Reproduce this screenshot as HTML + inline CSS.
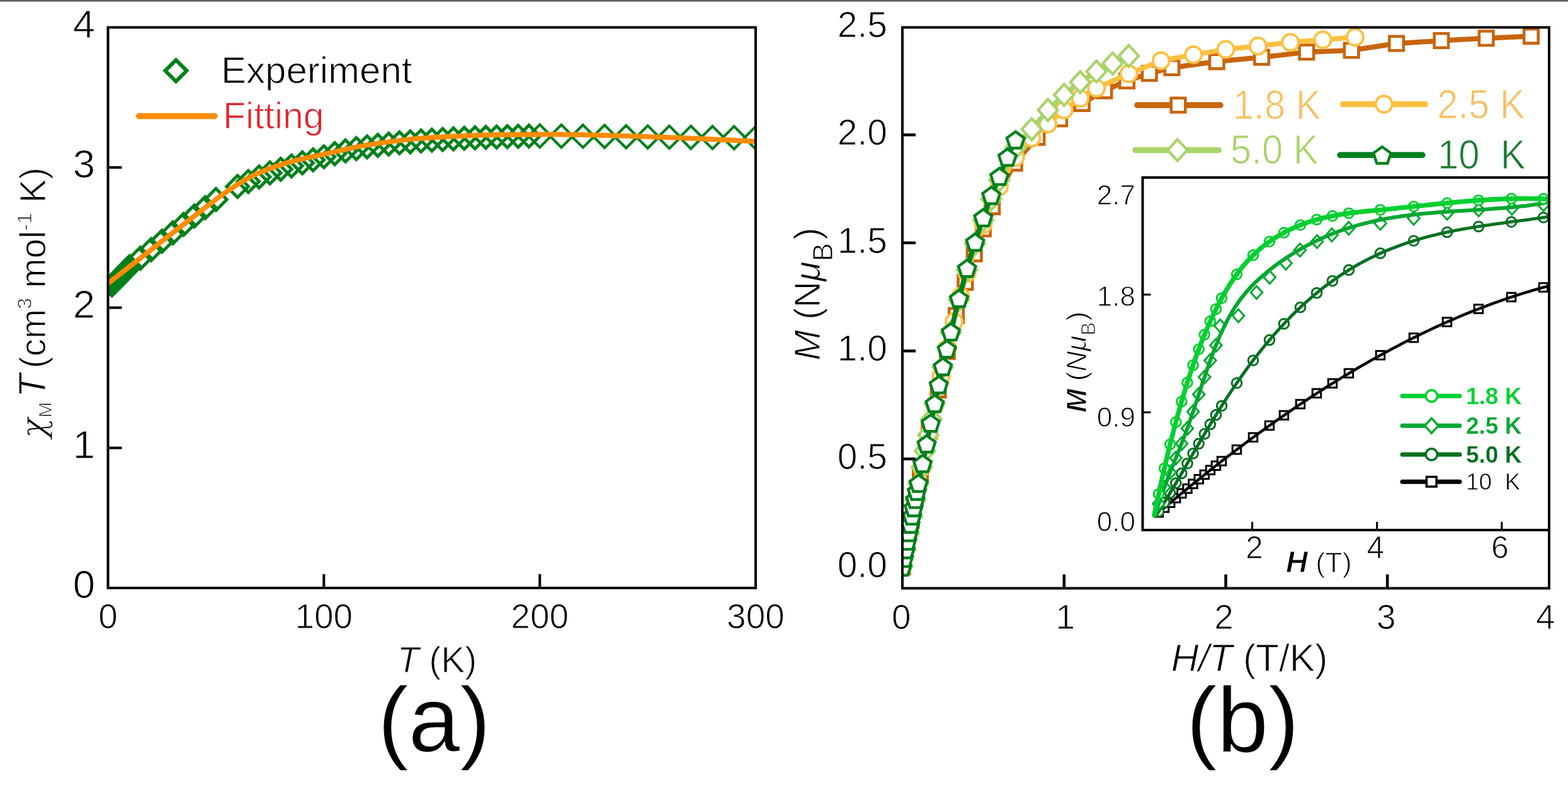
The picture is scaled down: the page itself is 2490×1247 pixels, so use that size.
<!DOCTYPE html><html><head><meta charset="utf-8"><style>html,body{margin:0;padding:0;background:#fff;overflow:hidden}svg{display:block}text{font-family:'Liberation Sans', Arial, sans-serif;stroke:#fff;stroke-width:1.1px}</style></head><body>
<svg xmlns="http://www.w3.org/2000/svg" width="2490" height="1247" viewBox="0 0 2490 1247">
<rect width="2490" height="1247" fill="#fff"/>
<rect x="0" y="0.6" width="2490" height="1.6" fill="#111"/>
<defs>
<clipPath id="cl"><rect x="171.5" y="43.5" width="1028.5" height="890.5"/></clipPath>
<clipPath id="cr"><rect x="1433.0" y="43.5" width="1027.0" height="891.0"/></clipPath>
<clipPath id="ci"><rect x="1814.5" y="282.0" width="645.5" height="560.0"/></clipPath>
</defs>
<g clip-path="url(#cl)">
<path d="M160.4 452.7L177.7 435.4L195.0 452.7L177.7 470.0ZM161.1 452.0L178.4 434.7L195.7 452.0L178.4 469.3ZM164.5 448.5L181.8 431.2L199.1 448.5L181.8 465.8ZM167.9 444.9L185.2 427.6L202.5 444.9L185.2 462.2ZM171.3 441.4L188.6 424.1L205.9 441.4L188.6 458.7ZM174.8 437.8L192.1 420.5L209.4 437.8L192.1 455.1ZM178.2 434.2L195.5 416.9L212.8 434.2L195.5 451.5ZM181.6 430.7L198.9 413.4L216.2 430.7L198.9 448.0ZM185.1 427.1L202.4 409.8L219.7 427.1L202.4 444.4ZM188.5 423.5L205.8 406.2L223.1 423.5L205.8 440.8ZM205.6 410.1L222.9 392.8L240.2 410.1L222.9 427.4ZM222.8 396.6L240.1 379.3L257.4 396.6L240.1 413.9ZM239.9 383.2L257.2 365.9L274.5 383.2L257.2 400.5ZM257.1 369.9L274.4 352.6L291.7 369.9L274.4 387.2ZM274.2 356.5L291.5 339.2L308.8 356.5L291.5 373.8ZM291.3 343.2L308.6 325.9L325.9 343.2L308.6 360.5ZM308.5 329.9L325.8 312.6L343.1 329.9L325.8 347.2ZM325.6 316.9L342.9 299.6L360.2 316.9L342.9 334.2ZM359.9 296.2L377.2 278.9L394.5 296.2L377.2 313.5ZM377.0 288.3L394.3 271.0L411.6 288.3L394.3 305.6ZM394.2 281.1L411.5 263.8L428.8 281.1L411.5 298.4ZM411.3 274.6L428.6 257.3L445.9 274.6L428.6 291.9ZM428.5 268.8L445.8 251.5L463.1 268.8L445.8 286.1ZM445.6 263.6L462.9 246.3L480.2 263.6L462.9 280.9ZM462.8 258.7L480.1 241.4L497.4 258.7L480.1 276.0ZM479.9 253.9L497.2 236.6L514.5 253.9L497.2 271.2ZM497.0 249.0L514.3 231.7L531.6 249.0L514.3 266.3ZM514.2 244.1L531.5 226.8L548.8 244.1L531.5 261.4ZM531.3 239.7L548.6 222.4L565.9 239.7L548.6 257.0ZM548.5 236.1L565.8 218.8L583.1 236.1L565.8 253.4ZM565.6 233.3L582.9 216.0L600.2 233.3L582.9 250.6ZM582.7 230.8L600.0 213.5L617.3 230.8L600.0 248.1ZM599.9 228.8L617.2 211.5L634.5 228.8L617.2 246.1ZM617.0 226.9L634.3 209.6L651.6 226.9L634.3 244.2ZM634.2 225.3L651.5 208.0L668.8 225.3L651.5 242.6ZM651.3 223.9L668.6 206.6L685.9 223.9L668.6 241.2ZM668.5 222.7L685.8 205.4L703.0 222.7L685.8 240.0ZM685.6 221.6L702.9 204.3L720.2 221.6L702.9 238.9ZM702.7 220.6L720.0 203.3L737.3 220.6L720.0 237.9ZM719.9 219.7L737.2 202.4L754.5 219.7L737.2 237.0ZM737.0 218.9L754.3 201.6L771.6 218.9L754.3 236.2ZM754.2 218.2L771.5 200.9L788.8 218.2L771.5 235.5ZM771.3 217.6L788.6 200.3L805.9 217.6L788.6 234.9ZM788.4 217.1L805.7 199.8L823.0 217.1L805.7 234.4ZM805.6 216.6L822.9 199.3L840.2 216.6L822.9 233.9ZM822.7 216.2L840.0 198.9L857.3 216.2L840.0 233.5Z" fill="none" stroke="#00801a" stroke-width="5" stroke-linejoin="miter"/>
<path d="M839.2 216.0L857.2 198.0L875.2 216.0L857.2 234.0ZM873.5 216.2L891.5 198.2L909.5 216.2L891.5 234.2ZM907.7 216.4L925.7 198.4L943.7 216.4L925.7 234.4ZM942.0 216.8L960.0 198.8L978.0 216.8L960.0 234.8ZM976.3 217.2L994.3 199.2L1012.3 217.2L994.3 235.2ZM1010.6 217.6L1028.6 199.6L1046.6 217.6L1028.6 235.6ZM1044.9 217.9L1062.9 199.9L1080.9 217.9L1062.9 235.9ZM1079.2 218.2L1097.2 200.2L1115.2 218.2L1097.2 236.2ZM1113.4 218.4L1131.4 200.4L1149.4 218.4L1131.4 236.4ZM1147.7 218.7L1165.7 200.7L1183.7 218.7L1165.7 236.7ZM1182.0 218.9L1200.0 200.9L1218.0 218.9L1200.0 236.9Z" fill="none" stroke="#00801a" stroke-width="4.2" stroke-linejoin="miter"/>
<polyline points="171.5,450.2 174.9,447.6 178.4,444.9 181.8,442.2 185.2,439.6 188.6,436.9 192.1,434.2 195.5,431.6 198.9,428.9 202.4,426.2 205.8,423.5 209.2,420.8 212.6,418.1 216.1,415.4 219.5,412.8 222.9,410.1 226.4,407.4 229.8,404.7 233.2,402.0 236.6,399.3 240.1,396.6 243.5,393.9 246.9,391.2 250.4,388.6 253.8,385.9 257.2,383.2 260.6,380.5 264.1,377.9 267.5,375.2 270.9,372.5 274.4,369.9 277.8,367.2 281.2,364.5 284.6,361.8 288.1,359.2 291.5,356.5 294.9,353.8 298.3,351.1 301.8,348.5 305.2,345.8 308.6,343.2 312.1,340.5 315.5,337.8 318.9,335.2 322.3,332.5 325.8,329.9 329.2,327.3 332.6,324.6 336.1,322.0 339.5,319.4 342.9,316.9 346.3,314.3 349.8,311.8 353.2,309.3 356.6,306.8 360.1,304.4 363.5,302.1 366.9,299.7 370.3,297.5 373.8,295.2 377.2,293.1 380.6,290.9 384.1,288.8 387.5,286.7 390.9,284.7 394.3,282.8 397.8,281.0 401.2,279.3 404.6,277.7 408.1,276.1 411.5,274.6 414.9,273.1 418.3,271.7 421.8,270.3 425.2,268.9 428.6,267.7 432.1,266.5 435.5,265.3 438.9,264.1 442.3,263.0 445.8,261.9 449.2,260.8 452.6,259.7 456.1,258.7 459.5,257.7 462.9,256.8 466.3,255.8 469.8,254.9 473.2,254.1 476.6,253.2 480.1,252.4 483.5,251.6 486.9,250.8 490.3,250.1 493.8,249.3 497.2,248.6 500.6,247.8 504.0,247.1 507.5,246.4 510.9,245.6 514.3,244.9 517.8,244.2 521.2,243.4 524.6,242.6 528.0,241.9 531.5,241.1 534.9,240.3 538.3,239.5 541.8,238.8 545.2,238.0 548.6,237.2 552.0,236.5 555.5,235.7 558.9,235.0 562.3,234.3 565.8,233.6 569.2,232.9 572.6,232.3 576.0,231.6 579.5,231.1 582.9,230.5 586.3,230.0 589.8,229.4 593.2,228.9 596.6,228.4 600.0,227.9 603.5,227.4 606.9,226.9 610.3,226.4 613.8,225.9 617.2,225.4 620.6,224.9 624.0,224.5 627.5,224.0 630.9,223.6 634.3,223.2 637.8,222.7 641.2,222.3 644.6,222.0 648.0,221.6 651.5,221.2 654.9,220.9 658.3,220.5 661.8,220.2 665.2,219.9 668.6,219.7 672.0,219.4 675.5,219.2 678.9,218.9 682.3,218.7 685.8,218.5 689.2,218.3 692.6,218.1 696.0,217.9 699.5,217.7 702.9,217.5 706.3,217.3 709.7,217.1 713.2,216.9 716.6,216.8 720.0,216.6 723.5,216.4 726.9,216.2 730.3,216.1 733.7,215.9 737.2,215.8 740.6,215.6 744.0,215.5 747.5,215.3 750.9,215.2 754.3,215.1 757.7,215.0 761.2,214.8 764.6,214.7 768.0,214.6 771.5,214.5 774.9,214.4 778.3,214.4 781.7,214.3 785.2,214.2 788.6,214.2 792.0,214.1 795.5,214.1 798.9,214.0 802.3,214.0 805.7,214.0 809.2,213.9 812.6,213.9 816.0,213.9 819.5,213.8 822.9,213.8 826.3,213.8 829.7,213.8 833.2,213.7 836.6,213.7 840.0,213.7 843.5,213.7 846.9,213.7 850.3,213.7 853.7,213.6 857.2,213.6 860.6,213.6 864.0,213.6 867.5,213.6 870.9,213.6 874.3,213.6 877.7,213.6 881.2,213.6 884.6,213.6 888.0,213.6 891.5,213.6 894.9,213.7 898.3,213.7 901.7,213.7 905.2,213.8 908.6,213.8 912.0,213.9 915.4,213.9 918.9,214.0 922.3,214.1 925.7,214.1 929.2,214.2 932.6,214.3 936.0,214.3 939.4,214.4 942.9,214.5 946.3,214.6 949.7,214.7 953.2,214.8 956.6,214.9 960.0,215.0 963.4,215.1 966.9,215.2 970.3,215.3 973.7,215.4 977.2,215.5 980.6,215.6 984.0,215.7 987.4,215.8 990.9,215.9 994.3,216.1 997.7,216.2 1001.2,216.3 1004.6,216.4 1008.0,216.5 1011.4,216.6 1014.9,216.7 1018.3,216.8 1021.7,216.9 1025.2,217.0 1028.6,217.1 1032.0,217.3 1035.4,217.4 1038.9,217.5 1042.3,217.6 1045.7,217.7 1049.2,217.8 1052.6,217.9 1056.0,218.1 1059.4,218.2 1062.9,218.3 1066.3,218.4 1069.7,218.6 1073.2,218.7 1076.6,218.8 1080.0,219.0 1083.4,219.1 1086.9,219.2 1090.3,219.4 1093.7,219.5 1097.2,219.7 1100.6,219.8 1104.0,220.0 1107.4,220.1 1110.9,220.3 1114.3,220.4 1117.7,220.6 1121.1,220.7 1124.6,220.9 1128.0,221.0 1131.4,221.2 1134.9,221.4 1138.3,221.5 1141.7,221.7 1145.1,221.9 1148.6,222.0 1152.0,222.2 1155.4,222.4 1158.9,222.5 1162.3,222.7 1165.7,222.9 1169.1,223.1 1172.6,223.2 1176.0,223.4 1179.4,223.6 1182.9,223.8 1186.3,224.0 1189.7,224.2 1193.1,224.3 1196.6,224.5 1200.0,224.7" fill="none" stroke="#ff8c00" stroke-width="8" stroke-linejoin="round"/>
</g>
<rect x="171.5" y="43.5" width="1028.5" height="890.5" fill="none" stroke="#000" stroke-width="4"/>
<path d="M171.5 711.4h22M171.5 488.8h22M171.5 266.1h22M514.3 934.0v-22M857.2 934.0v-22" stroke="#000" stroke-width="4"/>
<text x="151" y="950.3" font-size="63.5" text-anchor="end">0</text>
<text x="151" y="727.7" font-size="63.5" text-anchor="end">1</text>
<text x="151" y="505.1" font-size="63.5" text-anchor="end">2</text>
<text x="151" y="282.4" font-size="63.5" text-anchor="end">3</text>
<text x="151" y="59.8" font-size="63.5" text-anchor="end">4</text>
<text x="171.5" y="998" font-size="55" text-anchor="middle">0</text>
<text x="514.3" y="998" font-size="55" text-anchor="middle">100</text>
<text x="857.2" y="998" font-size="55" text-anchor="middle">200</text>
<text x="1200.0" y="998" font-size="55" text-anchor="middle">300</text>
<text x="694" y="1068" font-size="57" text-anchor="middle"><tspan font-style="italic">T</tspan> (K)</text>
<text x="689.5" y="1194" font-size="147" text-anchor="middle">(a)</text>
<text transform="translate(71.5,481) rotate(-90)" font-size="56.5" text-anchor="middle"><tspan font-family="'DejaVu Serif', serif" font-style="italic" font-size="54">χ</tspan><tspan font-size="30" dy="10">M</tspan><tspan dy="-10" dx="7" font-style="italic" font-size="61">T</tspan><tspan dx="9">(cm</tspan><tspan font-size="32" dy="-22">3</tspan><tspan dy="22"> mol</tspan><tspan font-size="32" dy="-22">-1</tspan><tspan dy="22"> K)</tspan></text>
<path d="M262.4 112.3L279.4 95.3L296.4 112.3L279.4 129.3Z" fill="none" stroke="#00801a" stroke-width="6"/>
<text x="351" y="132.2" font-size="60">Experiment</text>
<line x1="220.5" y1="184.4" x2="341" y2="184.4" stroke="#ff8c00" stroke-width="9.5" stroke-linecap="round"/>
<text x="354" y="204" font-size="59" fill="#e3202a">Fitting</text>
<g clip-path="url(#cr)">
<polyline points="1433.0,900.6 1447.3,826.7 1461.5,755.0 1475.8,684.9 1490.1,619.3 1504.3,558.3 1518.6,501.3 1532.8,448.6 1547.1,403.3 1561.4,363.5 1575.6,328.3 1611.3,259.2 1647.0,218.2 1682.6,188.7 1718.3,164.3 1753.9,144.1 1789.6,128.4 1825.3,116.4 1860.9,107.5 1932.2,97.8 2003.6,91.0 2074.9,82.8 2146.2,80.0 2217.5,69.0 2288.8,64.6 2360.2,60.8 2431.5,57.4" fill="none" stroke="#c8650c" stroke-width="8" stroke-linejoin="round"/>
<path d="M1421.8 889.4h22.5v22.5h-22.5Z" fill="#fff" stroke="#c8650c" stroke-width="4.6"/>
<path d="M1436.0 815.4h22.5v22.5h-22.5Z" fill="#fff" stroke="#c8650c" stroke-width="4.6"/>
<path d="M1450.3 743.7h22.5v22.5h-22.5Z" fill="#fff" stroke="#c8650c" stroke-width="4.6"/>
<path d="M1464.5 673.7h22.5v22.5h-22.5Z" fill="#fff" stroke="#c8650c" stroke-width="4.6"/>
<path d="M1478.8 608.1h22.5v22.5h-22.5Z" fill="#fff" stroke="#c8650c" stroke-width="4.6"/>
<path d="M1493.1 547.0h22.5v22.5h-22.5Z" fill="#fff" stroke="#c8650c" stroke-width="4.6"/>
<path d="M1507.3 490.0h22.5v22.5h-22.5Z" fill="#fff" stroke="#c8650c" stroke-width="4.6"/>
<path d="M1521.6 437.3h22.5v22.5h-22.5Z" fill="#fff" stroke="#c8650c" stroke-width="4.6"/>
<path d="M1535.9 392.0h22.5v22.5h-22.5Z" fill="#fff" stroke="#c8650c" stroke-width="4.6"/>
<path d="M1550.1 352.2h22.5v22.5h-22.5Z" fill="#fff" stroke="#c8650c" stroke-width="4.6"/>
<path d="M1564.4 317.1h22.5v22.5h-22.5Z" fill="#fff" stroke="#c8650c" stroke-width="4.6"/>
<path d="M1600.0 247.9h22.5v22.5h-22.5Z" fill="#fff" stroke="#c8650c" stroke-width="4.6"/>
<path d="M1635.7 206.9h22.5v22.5h-22.5Z" fill="#fff" stroke="#c8650c" stroke-width="4.6"/>
<path d="M1671.4 177.5h22.5v22.5h-22.5Z" fill="#fff" stroke="#c8650c" stroke-width="4.6"/>
<path d="M1707.0 153.1h22.5v22.5h-22.5Z" fill="#fff" stroke="#c8650c" stroke-width="4.6"/>
<path d="M1742.7 132.9h22.5v22.5h-22.5Z" fill="#fff" stroke="#c8650c" stroke-width="4.6"/>
<path d="M1778.3 117.2h22.5v22.5h-22.5Z" fill="#fff" stroke="#c8650c" stroke-width="4.6"/>
<path d="M1814.0 105.2h22.5v22.5h-22.5Z" fill="#fff" stroke="#c8650c" stroke-width="4.6"/>
<path d="M1849.7 96.2h22.5v22.5h-22.5Z" fill="#fff" stroke="#c8650c" stroke-width="4.6"/>
<path d="M1921.0 86.6h22.5v22.5h-22.5Z" fill="#fff" stroke="#c8650c" stroke-width="4.6"/>
<path d="M1992.3 79.7h22.5v22.5h-22.5Z" fill="#fff" stroke="#c8650c" stroke-width="4.6"/>
<path d="M2063.6 71.5h22.5v22.5h-22.5Z" fill="#fff" stroke="#c8650c" stroke-width="4.6"/>
<path d="M2134.9 68.8h22.5v22.5h-22.5Z" fill="#fff" stroke="#c8650c" stroke-width="4.6"/>
<path d="M2206.3 57.8h22.5v22.5h-22.5Z" fill="#fff" stroke="#c8650c" stroke-width="4.6"/>
<path d="M2277.6 53.3h22.5v22.5h-22.5Z" fill="#fff" stroke="#c8650c" stroke-width="4.6"/>
<path d="M2348.9 49.5h22.5v22.5h-22.5Z" fill="#fff" stroke="#c8650c" stroke-width="4.6"/>
<path d="M2420.2 46.1h22.5v22.5h-22.5Z" fill="#fff" stroke="#c8650c" stroke-width="4.6"/>
<polyline points="1433.0,900.6 1443.3,846.9 1453.5,794.3 1463.8,742.8 1474.1,691.9 1484.3,643.2 1494.6,597.0 1504.9,552.8 1515.2,510.9 1525.4,470.7 1535.7,433.8 1561.4,356.6 1587.0,296.6 1612.7,250.2 1638.4,219.3 1664.1,197.0 1689.8,174.7 1715.4,156.2 1741.1,140.1 1792.5,117.1 1843.8,96.5 1895.2,86.9 1946.5,78.6 1997.8,73.1 2049.2,67.3 2100.6,63.2 2151.9,59.1" fill="none" stroke="#ffbf40" stroke-width="8" stroke-linejoin="round"/>
<path d="M1420.0 900.6a13.0 13.0 0 1 0 26.0 0a13.0 13.0 0 1 0 -26.0 0Z" fill="#fff" stroke="#ffbf40" stroke-width="4.0"/>
<path d="M1430.3 846.9a13.0 13.0 0 1 0 26.0 0a13.0 13.0 0 1 0 -26.0 0Z" fill="#fff" stroke="#ffbf40" stroke-width="4.0"/>
<path d="M1440.5 794.3a13.0 13.0 0 1 0 26.0 0a13.0 13.0 0 1 0 -26.0 0Z" fill="#fff" stroke="#ffbf40" stroke-width="4.0"/>
<path d="M1450.8 742.8a13.0 13.0 0 1 0 26.0 0a13.0 13.0 0 1 0 -26.0 0Z" fill="#fff" stroke="#ffbf40" stroke-width="4.0"/>
<path d="M1461.1 691.9a13.0 13.0 0 1 0 26.0 0a13.0 13.0 0 1 0 -26.0 0Z" fill="#fff" stroke="#ffbf40" stroke-width="4.0"/>
<path d="M1471.3 643.2a13.0 13.0 0 1 0 26.0 0a13.0 13.0 0 1 0 -26.0 0Z" fill="#fff" stroke="#ffbf40" stroke-width="4.0"/>
<path d="M1481.6 597.0a13.0 13.0 0 1 0 26.0 0a13.0 13.0 0 1 0 -26.0 0Z" fill="#fff" stroke="#ffbf40" stroke-width="4.0"/>
<path d="M1491.9 552.8a13.0 13.0 0 1 0 26.0 0a13.0 13.0 0 1 0 -26.0 0Z" fill="#fff" stroke="#ffbf40" stroke-width="4.0"/>
<path d="M1502.2 510.9a13.0 13.0 0 1 0 26.0 0a13.0 13.0 0 1 0 -26.0 0Z" fill="#fff" stroke="#ffbf40" stroke-width="4.0"/>
<path d="M1512.4 470.7a13.0 13.0 0 1 0 26.0 0a13.0 13.0 0 1 0 -26.0 0Z" fill="#fff" stroke="#ffbf40" stroke-width="4.0"/>
<path d="M1522.7 433.8a13.0 13.0 0 1 0 26.0 0a13.0 13.0 0 1 0 -26.0 0Z" fill="#fff" stroke="#ffbf40" stroke-width="4.0"/>
<path d="M1548.4 356.6a13.0 13.0 0 1 0 26.0 0a13.0 13.0 0 1 0 -26.0 0Z" fill="#fff" stroke="#ffbf40" stroke-width="4.0"/>
<path d="M1574.0 296.6a13.0 13.0 0 1 0 26.0 0a13.0 13.0 0 1 0 -26.0 0Z" fill="#fff" stroke="#ffbf40" stroke-width="4.0"/>
<path d="M1599.7 250.2a13.0 13.0 0 1 0 26.0 0a13.0 13.0 0 1 0 -26.0 0Z" fill="#fff" stroke="#ffbf40" stroke-width="4.0"/>
<path d="M1625.4 219.3a13.0 13.0 0 1 0 26.0 0a13.0 13.0 0 1 0 -26.0 0Z" fill="#fff" stroke="#ffbf40" stroke-width="4.0"/>
<path d="M1651.1 197.0a13.0 13.0 0 1 0 26.0 0a13.0 13.0 0 1 0 -26.0 0Z" fill="#fff" stroke="#ffbf40" stroke-width="4.0"/>
<path d="M1676.8 174.7a13.0 13.0 0 1 0 26.0 0a13.0 13.0 0 1 0 -26.0 0Z" fill="#fff" stroke="#ffbf40" stroke-width="4.0"/>
<path d="M1702.4 156.2a13.0 13.0 0 1 0 26.0 0a13.0 13.0 0 1 0 -26.0 0Z" fill="#fff" stroke="#ffbf40" stroke-width="4.0"/>
<path d="M1728.1 140.1a13.0 13.0 0 1 0 26.0 0a13.0 13.0 0 1 0 -26.0 0Z" fill="#fff" stroke="#ffbf40" stroke-width="4.0"/>
<path d="M1779.5 117.1a13.0 13.0 0 1 0 26.0 0a13.0 13.0 0 1 0 -26.0 0Z" fill="#fff" stroke="#ffbf40" stroke-width="4.0"/>
<path d="M1830.8 96.5a13.0 13.0 0 1 0 26.0 0a13.0 13.0 0 1 0 -26.0 0Z" fill="#fff" stroke="#ffbf40" stroke-width="4.0"/>
<path d="M1882.2 86.9a13.0 13.0 0 1 0 26.0 0a13.0 13.0 0 1 0 -26.0 0Z" fill="#fff" stroke="#ffbf40" stroke-width="4.0"/>
<path d="M1933.5 78.6a13.0 13.0 0 1 0 26.0 0a13.0 13.0 0 1 0 -26.0 0Z" fill="#fff" stroke="#ffbf40" stroke-width="4.0"/>
<path d="M1984.8 73.1a13.0 13.0 0 1 0 26.0 0a13.0 13.0 0 1 0 -26.0 0Z" fill="#fff" stroke="#ffbf40" stroke-width="4.0"/>
<path d="M2036.2 67.3a13.0 13.0 0 1 0 26.0 0a13.0 13.0 0 1 0 -26.0 0Z" fill="#fff" stroke="#ffbf40" stroke-width="4.0"/>
<path d="M2087.6 63.2a13.0 13.0 0 1 0 26.0 0a13.0 13.0 0 1 0 -26.0 0Z" fill="#fff" stroke="#ffbf40" stroke-width="4.0"/>
<path d="M2138.9 59.1a13.0 13.0 0 1 0 26.0 0a13.0 13.0 0 1 0 -26.0 0Z" fill="#fff" stroke="#ffbf40" stroke-width="4.0"/>
<polyline points="1433.0,900.6 1438.1,873.6 1443.3,846.9 1448.4,820.4 1453.5,794.1 1458.7,768.1 1463.8,742.2 1468.9,716.4 1474.1,690.8 1479.2,665.8 1484.3,641.5 1497.2,583.2 1510.0,528.2 1522.9,476.2 1535.7,428.7 1548.5,387.0 1561.4,349.8 1574.2,316.3 1587.0,286.3 1612.7,234.8 1638.4,205.3 1664.1,174.7 1689.8,150.7 1715.4,130.5 1741.1,113.6 1766.8,100.9 1792.5,88.9" fill="none" stroke="#a9d36a" stroke-width="8" stroke-linejoin="round"/>
<path d="M1417.5 900.6L1433.0 883.6L1448.5 900.6L1433.0 917.6Z" fill="#fff" stroke="#a9d36a" stroke-width="4.3"/>
<path d="M1422.6 873.6L1438.1 856.6L1453.6 873.6L1438.1 890.6Z" fill="#fff" stroke="#a9d36a" stroke-width="4.3"/>
<path d="M1427.8 846.9L1443.3 829.9L1458.8 846.9L1443.3 863.9Z" fill="#fff" stroke="#a9d36a" stroke-width="4.3"/>
<path d="M1432.9 820.4L1448.4 803.4L1463.9 820.4L1448.4 837.4Z" fill="#fff" stroke="#a9d36a" stroke-width="4.3"/>
<path d="M1438.0 794.1L1453.5 777.1L1469.0 794.1L1453.5 811.1Z" fill="#fff" stroke="#a9d36a" stroke-width="4.3"/>
<path d="M1443.2 768.1L1458.7 751.1L1474.2 768.1L1458.7 785.1Z" fill="#fff" stroke="#a9d36a" stroke-width="4.3"/>
<path d="M1448.3 742.2L1463.8 725.2L1479.3 742.2L1463.8 759.2Z" fill="#fff" stroke="#a9d36a" stroke-width="4.3"/>
<path d="M1453.4 716.4L1468.9 699.4L1484.4 716.4L1468.9 733.4Z" fill="#fff" stroke="#a9d36a" stroke-width="4.3"/>
<path d="M1458.6 690.8L1474.1 673.8L1489.6 690.8L1474.1 707.8Z" fill="#fff" stroke="#a9d36a" stroke-width="4.3"/>
<path d="M1463.7 665.8L1479.2 648.8L1494.7 665.8L1479.2 682.8Z" fill="#fff" stroke="#a9d36a" stroke-width="4.3"/>
<path d="M1468.8 641.5L1484.3 624.5L1499.8 641.5L1484.3 658.5Z" fill="#fff" stroke="#a9d36a" stroke-width="4.3"/>
<path d="M1481.7 583.2L1497.2 566.2L1512.7 583.2L1497.2 600.2Z" fill="#fff" stroke="#a9d36a" stroke-width="4.3"/>
<path d="M1494.5 528.2L1510.0 511.2L1525.5 528.2L1510.0 545.2Z" fill="#fff" stroke="#a9d36a" stroke-width="4.3"/>
<path d="M1507.4 476.2L1522.9 459.2L1538.4 476.2L1522.9 493.2Z" fill="#fff" stroke="#a9d36a" stroke-width="4.3"/>
<path d="M1520.2 428.7L1535.7 411.7L1551.2 428.7L1535.7 445.7Z" fill="#fff" stroke="#a9d36a" stroke-width="4.3"/>
<path d="M1533.0 387.0L1548.5 370.0L1564.0 387.0L1548.5 404.0Z" fill="#fff" stroke="#a9d36a" stroke-width="4.3"/>
<path d="M1545.9 349.8L1561.4 332.8L1576.9 349.8L1561.4 366.8Z" fill="#fff" stroke="#a9d36a" stroke-width="4.3"/>
<path d="M1558.7 316.3L1574.2 299.3L1589.7 316.3L1574.2 333.3Z" fill="#fff" stroke="#a9d36a" stroke-width="4.3"/>
<path d="M1571.5 286.3L1587.0 269.3L1602.5 286.3L1587.0 303.3Z" fill="#fff" stroke="#a9d36a" stroke-width="4.3"/>
<path d="M1597.2 234.8L1612.7 217.8L1628.2 234.8L1612.7 251.8Z" fill="#fff" stroke="#a9d36a" stroke-width="4.3"/>
<path d="M1622.9 205.3L1638.4 188.3L1653.9 205.3L1638.4 222.3Z" fill="#fff" stroke="#a9d36a" stroke-width="4.3"/>
<path d="M1648.6 174.7L1664.1 157.7L1679.6 174.7L1664.1 191.7Z" fill="#fff" stroke="#a9d36a" stroke-width="4.3"/>
<path d="M1674.2 150.7L1689.8 133.7L1705.2 150.7L1689.8 167.7Z" fill="#fff" stroke="#a9d36a" stroke-width="4.3"/>
<path d="M1699.9 130.5L1715.4 113.5L1730.9 130.5L1715.4 147.5Z" fill="#fff" stroke="#a9d36a" stroke-width="4.3"/>
<path d="M1725.6 113.6L1741.1 96.6L1756.6 113.6L1741.1 130.6Z" fill="#fff" stroke="#a9d36a" stroke-width="4.3"/>
<path d="M1751.3 100.9L1766.8 83.9L1782.3 100.9L1766.8 117.9Z" fill="#fff" stroke="#a9d36a" stroke-width="4.3"/>
<path d="M1777.0 88.9L1792.5 71.9L1808.0 88.9L1792.5 105.9Z" fill="#fff" stroke="#a9d36a" stroke-width="4.3"/>
<polyline points="1433.0,900.6 1435.6,886.7 1438.1,873.0 1440.7,859.4 1443.3,845.9 1445.8,832.6 1448.4,819.3 1451.0,806.2 1453.5,793.2 1456.1,780.3 1458.7,767.4 1465.1,736.2 1471.5,705.0 1477.9,672.0 1484.3,640.8 1490.8,610.9 1497.2,582.3 1503.6,554.3 1510.0,526.9 1522.9,474.0 1535.7,426.0 1548.5,384.4 1561.4,345.6 1574.2,310.3 1587.0,280.1 1599.9,249.5 1612.7,222.1" fill="none" stroke="#00801e" stroke-width="8" stroke-linejoin="round"/>
<path d="M1433.0 887.6L1446.8 897.6L1441.5 913.8L1424.5 913.8L1419.2 897.6Z" fill="#fff" stroke="#00801e" stroke-width="4.4"/>
<path d="M1435.6 873.7L1449.4 883.7L1444.1 899.9L1427.0 899.9L1421.8 883.7Z" fill="#fff" stroke="#00801e" stroke-width="4.4"/>
<path d="M1438.1 860.0L1451.9 870.0L1446.7 886.2L1429.6 886.2L1424.3 870.0Z" fill="#fff" stroke="#00801e" stroke-width="4.4"/>
<path d="M1440.7 846.4L1454.5 856.4L1449.2 872.6L1432.2 872.6L1426.9 856.4Z" fill="#fff" stroke="#00801e" stroke-width="4.4"/>
<path d="M1443.3 832.9L1457.1 842.9L1451.8 859.1L1434.7 859.1L1429.5 842.9Z" fill="#fff" stroke="#00801e" stroke-width="4.4"/>
<path d="M1445.8 819.6L1459.6 829.6L1454.4 845.8L1437.3 845.8L1432.0 829.6Z" fill="#fff" stroke="#00801e" stroke-width="4.4"/>
<path d="M1448.4 806.3L1462.2 816.4L1456.9 832.6L1439.9 832.6L1434.6 816.4Z" fill="#fff" stroke="#00801e" stroke-width="4.4"/>
<path d="M1451.0 793.2L1464.8 803.2L1459.5 819.5L1442.4 819.5L1437.2 803.2Z" fill="#fff" stroke="#00801e" stroke-width="4.4"/>
<path d="M1453.5 780.2L1467.3 790.2L1462.1 806.4L1445.0 806.4L1439.7 790.2Z" fill="#fff" stroke="#00801e" stroke-width="4.4"/>
<path d="M1456.1 767.3L1469.9 777.3L1464.6 793.5L1447.6 793.5L1442.3 777.3Z" fill="#fff" stroke="#00801e" stroke-width="4.4"/>
<path d="M1458.7 754.4L1472.5 764.5L1467.2 780.7L1450.2 780.7L1444.9 764.5Z" fill="#fff" stroke="#00801e" stroke-width="4.4"/>
<path d="M1465.1 723.2L1478.9 733.2L1473.6 749.4L1456.6 749.4L1451.3 733.2Z" fill="#fff" stroke="#00801e" stroke-width="4.4"/>
<path d="M1471.5 692.0L1485.3 702.0L1480.0 718.2L1463.0 718.2L1457.7 702.0Z" fill="#fff" stroke="#00801e" stroke-width="4.4"/>
<path d="M1477.9 659.0L1491.7 669.0L1486.5 685.3L1469.4 685.3L1464.1 669.0Z" fill="#fff" stroke="#00801e" stroke-width="4.4"/>
<path d="M1484.3 627.8L1498.1 637.8L1492.9 654.0L1475.8 654.0L1470.6 637.8Z" fill="#fff" stroke="#00801e" stroke-width="4.4"/>
<path d="M1490.8 597.9L1504.6 608.0L1499.3 624.2L1482.2 624.2L1477.0 608.0Z" fill="#fff" stroke="#00801e" stroke-width="4.4"/>
<path d="M1497.2 569.3L1511.0 579.3L1505.7 595.5L1488.7 595.5L1483.4 579.3Z" fill="#fff" stroke="#00801e" stroke-width="4.4"/>
<path d="M1503.6 541.3L1517.4 551.3L1512.1 567.5L1495.1 567.5L1489.8 551.3Z" fill="#fff" stroke="#00801e" stroke-width="4.4"/>
<path d="M1510.0 513.9L1523.8 523.9L1518.5 540.1L1501.5 540.1L1496.2 523.9Z" fill="#fff" stroke="#00801e" stroke-width="4.4"/>
<path d="M1522.9 461.0L1536.7 471.0L1531.4 487.2L1514.3 487.2L1509.1 471.0Z" fill="#fff" stroke="#00801e" stroke-width="4.4"/>
<path d="M1535.7 413.0L1549.5 423.0L1544.2 439.2L1527.2 439.2L1521.9 423.0Z" fill="#fff" stroke="#00801e" stroke-width="4.4"/>
<path d="M1548.5 371.4L1562.3 381.4L1557.1 397.7L1540.0 397.7L1534.7 381.4Z" fill="#fff" stroke="#00801e" stroke-width="4.4"/>
<path d="M1561.4 332.6L1575.2 342.7L1569.9 358.9L1552.9 358.9L1547.6 342.7Z" fill="#fff" stroke="#00801e" stroke-width="4.4"/>
<path d="M1574.2 297.3L1588.0 307.3L1582.7 323.5L1565.7 323.5L1560.4 307.3Z" fill="#fff" stroke="#00801e" stroke-width="4.4"/>
<path d="M1587.0 267.1L1600.8 277.1L1595.6 293.3L1578.5 293.3L1573.3 277.1Z" fill="#fff" stroke="#00801e" stroke-width="4.4"/>
<path d="M1599.9 236.5L1613.7 246.6L1608.4 262.8L1591.4 262.8L1586.1 246.6Z" fill="#fff" stroke="#00801e" stroke-width="4.4"/>
<path d="M1612.7 209.1L1626.5 219.1L1621.2 235.3L1604.2 235.3L1598.9 219.1Z" fill="#fff" stroke="#00801e" stroke-width="4.4"/>
</g>
<rect x="1814.5" y="282.0" width="645.5" height="560.0" fill="#fff"/>
<g clip-path="url(#ci)">
<path d="M1833.2 807.4h13.5v13.5h-13.5Z" fill="#fff" stroke="#000000" stroke-width="3"/>
<path d="M1842.3 799.7h13.5v13.5h-13.5Z" fill="#fff" stroke="#000000" stroke-width="3"/>
<path d="M1851.5 792.0h13.5v13.5h-13.5Z" fill="#fff" stroke="#000000" stroke-width="3"/>
<path d="M1860.5 784.4h13.5v13.5h-13.5Z" fill="#fff" stroke="#000000" stroke-width="3"/>
<path d="M1869.7 776.9h13.5v13.5h-13.5Z" fill="#fff" stroke="#000000" stroke-width="3"/>
<path d="M1878.8 769.4h13.5v13.5h-13.5Z" fill="#fff" stroke="#000000" stroke-width="3"/>
<path d="M1887.8 762.0h13.5v13.5h-13.5Z" fill="#fff" stroke="#000000" stroke-width="3"/>
<path d="M1897.0 754.6h13.5v13.5h-13.5Z" fill="#fff" stroke="#000000" stroke-width="3"/>
<path d="M1906.0 747.3h13.5v13.5h-13.5Z" fill="#fff" stroke="#000000" stroke-width="3"/>
<path d="M1915.2 740.1h13.5v13.5h-13.5Z" fill="#fff" stroke="#000000" stroke-width="3"/>
<path d="M1924.2 732.9h13.5v13.5h-13.5Z" fill="#fff" stroke="#000000" stroke-width="3"/>
<path d="M1933.3 725.8h13.5v13.5h-13.5Z" fill="#fff" stroke="#000000" stroke-width="3"/>
<path d="M1957.2 707.5h13.5v13.5h-13.5Z" fill="#fff" stroke="#000000" stroke-width="3"/>
<path d="M1983.2 688.0h13.5v13.5h-13.5Z" fill="#fff" stroke="#000000" stroke-width="3"/>
<path d="M2009.2 669.2h13.5v13.5h-13.5Z" fill="#fff" stroke="#000000" stroke-width="3"/>
<path d="M2032.2 653.0h13.5v13.5h-13.5Z" fill="#fff" stroke="#000000" stroke-width="3"/>
<path d="M2058.2 635.3h13.5v13.5h-13.5Z" fill="#fff" stroke="#000000" stroke-width="3"/>
<path d="M2084.2 618.1h13.5v13.5h-13.5Z" fill="#fff" stroke="#000000" stroke-width="3"/>
<path d="M2109.2 602.2h13.5v13.5h-13.5Z" fill="#fff" stroke="#000000" stroke-width="3"/>
<path d="M2135.2 586.3h13.5v13.5h-13.5Z" fill="#fff" stroke="#000000" stroke-width="3"/>
<path d="M2185.2 557.5h13.5v13.5h-13.5Z" fill="#fff" stroke="#000000" stroke-width="3"/>
<path d="M2238.2 529.7h13.5v13.5h-13.5Z" fill="#fff" stroke="#000000" stroke-width="3"/>
<path d="M2291.2 504.7h13.5v13.5h-13.5Z" fill="#fff" stroke="#000000" stroke-width="3"/>
<path d="M2341.2 483.9h13.5v13.5h-13.5Z" fill="#fff" stroke="#000000" stroke-width="3"/>
<path d="M2393.2 465.2h13.5v13.5h-13.5Z" fill="#fff" stroke="#000000" stroke-width="3"/>
<path d="M2444.2 449.7h13.5v13.5h-13.5Z" fill="#fff" stroke="#000000" stroke-width="3"/>
<polyline points="1838.0,815.9 1841.9,812.5 1845.8,809.2 1849.8,805.9 1853.7,802.6 1857.6,799.3 1861.5,796.0 1865.5,792.7 1869.4,789.4 1873.3,786.2 1877.2,782.9 1881.2,779.7 1885.1,776.5 1889.0,773.2 1892.9,770.0 1896.9,766.9 1900.8,763.7 1904.7,760.5 1908.6,757.4 1912.6,754.2 1916.5,751.1 1920.4,748.0 1924.3,744.9 1928.3,741.8 1932.2,738.7 1936.1,735.6 1940.0,732.6 1944.0,729.5 1947.9,726.5 1951.8,723.5 1955.7,720.5 1959.7,717.5 1963.6,714.5 1967.5,711.6 1971.4,708.6 1975.4,705.7 1979.3,702.7 1983.2,699.8 1987.1,696.9 1991.1,694.0 1995.0,691.1 1998.9,688.3 2002.8,685.4 2006.8,682.6 2010.7,679.8 2014.6,677.0 2018.5,674.2 2022.5,671.4 2026.4,668.6 2030.3,665.8 2034.2,663.1 2038.2,660.4 2042.1,657.6 2046.0,654.9 2049.9,652.2 2053.8,649.6 2057.8,646.9 2061.7,644.2 2065.6,641.6 2069.5,639.0 2073.5,636.4 2077.4,633.8 2081.3,631.2 2085.2,628.6 2089.2,626.1 2093.1,623.5 2097.0,621.0 2100.9,618.5 2104.9,616.0 2108.8,613.5 2112.7,611.0 2116.6,608.6 2120.6,606.2 2124.5,603.7 2128.4,601.3 2132.3,598.9 2136.3,596.5 2140.2,594.2 2144.1,591.8 2148.0,589.5 2152.0,587.1 2155.9,584.8 2159.8,582.5 2163.7,580.3 2167.7,578.0 2171.6,575.7 2175.5,573.5 2179.4,571.3 2183.4,569.1 2187.3,566.9 2191.2,564.7 2195.1,562.6 2199.1,560.4 2203.0,558.3 2206.9,556.2 2210.8,554.1 2214.8,552.0 2218.7,549.9 2222.6,547.9 2226.5,545.8 2230.5,543.8 2234.4,541.8 2238.3,539.8 2242.2,537.8 2246.2,535.9 2250.1,533.9 2254.0,532.0 2257.9,530.1 2261.8,528.2 2265.8,526.3 2269.7,524.4 2273.6,522.6 2277.5,520.8 2281.5,518.9 2285.4,517.1 2289.3,515.4 2293.2,513.6 2297.2,511.8 2301.1,510.1 2305.0,508.4 2308.9,506.7 2312.9,505.0 2316.8,503.3 2320.7,501.7 2324.6,500.0 2328.6,498.4 2332.5,496.8 2336.4,495.2 2340.3,493.7 2344.3,492.1 2348.2,490.6 2352.1,489.1 2356.0,487.6 2360.0,486.1 2363.9,484.6 2367.8,483.2 2371.7,481.7 2375.7,480.3 2379.6,478.9 2383.5,477.5 2387.4,476.2 2391.4,474.8 2395.3,473.5 2399.2,472.2 2403.1,470.9 2407.1,469.6 2411.0,468.3 2414.9,467.1 2418.8,465.9 2422.8,464.7 2426.7,463.5 2430.6,462.3 2434.5,461.1 2438.5,460.0 2442.4,458.9 2446.3,457.8 2450.2,456.7 2454.2,455.6 2458.1,454.6 2462.0,453.6" fill="none" stroke="#000000" stroke-width="4.5" stroke-linejoin="round" stroke-linecap="round"/>
<path d="M1832.2 812.6a7.8 7.8 0 1 0 15.6 0a7.8 7.8 0 1 0 -15.6 0Z" fill="#fff" stroke="#007020" stroke-width="3"/>
<path d="M1841.3 798.0a7.8 7.8 0 1 0 15.6 0a7.8 7.8 0 1 0 -15.6 0Z" fill="#fff" stroke="#007020" stroke-width="3"/>
<path d="M1850.4 782.9a7.8 7.8 0 1 0 15.6 0a7.8 7.8 0 1 0 -15.6 0Z" fill="#fff" stroke="#007020" stroke-width="3"/>
<path d="M1859.5 767.5a7.8 7.8 0 1 0 15.6 0a7.8 7.8 0 1 0 -15.6 0Z" fill="#fff" stroke="#007020" stroke-width="3"/>
<path d="M1868.6 751.9a7.8 7.8 0 1 0 15.6 0a7.8 7.8 0 1 0 -15.6 0Z" fill="#fff" stroke="#007020" stroke-width="3"/>
<path d="M1877.7 736.2a7.8 7.8 0 1 0 15.6 0a7.8 7.8 0 1 0 -15.6 0Z" fill="#fff" stroke="#007020" stroke-width="3"/>
<path d="M1886.8 720.4a7.8 7.8 0 1 0 15.6 0a7.8 7.8 0 1 0 -15.6 0Z" fill="#fff" stroke="#007020" stroke-width="3"/>
<path d="M1895.9 704.8a7.8 7.8 0 1 0 15.6 0a7.8 7.8 0 1 0 -15.6 0Z" fill="#fff" stroke="#007020" stroke-width="3"/>
<path d="M1905.0 689.3a7.8 7.8 0 1 0 15.6 0a7.8 7.8 0 1 0 -15.6 0Z" fill="#fff" stroke="#007020" stroke-width="3"/>
<path d="M1914.1 674.1a7.8 7.8 0 1 0 15.6 0a7.8 7.8 0 1 0 -15.6 0Z" fill="#fff" stroke="#007020" stroke-width="3"/>
<path d="M1923.2 659.2a7.8 7.8 0 1 0 15.6 0a7.8 7.8 0 1 0 -15.6 0Z" fill="#fff" stroke="#007020" stroke-width="3"/>
<path d="M1932.3 644.7a7.8 7.8 0 1 0 15.6 0a7.8 7.8 0 1 0 -15.6 0Z" fill="#fff" stroke="#007020" stroke-width="3"/>
<path d="M1956.2 608.5a7.8 7.8 0 1 0 15.6 0a7.8 7.8 0 1 0 -15.6 0Z" fill="#fff" stroke="#007020" stroke-width="3"/>
<path d="M1982.2 572.5a7.8 7.8 0 1 0 15.6 0a7.8 7.8 0 1 0 -15.6 0Z" fill="#fff" stroke="#007020" stroke-width="3"/>
<path d="M2008.2 540.1a7.8 7.8 0 1 0 15.6 0a7.8 7.8 0 1 0 -15.6 0Z" fill="#fff" stroke="#007020" stroke-width="3"/>
<path d="M2031.2 514.3a7.8 7.8 0 1 0 15.6 0a7.8 7.8 0 1 0 -15.6 0Z" fill="#fff" stroke="#007020" stroke-width="3"/>
<path d="M2057.2 488.2a7.8 7.8 0 1 0 15.6 0a7.8 7.8 0 1 0 -15.6 0Z" fill="#fff" stroke="#007020" stroke-width="3"/>
<path d="M2083.2 465.4a7.8 7.8 0 1 0 15.6 0a7.8 7.8 0 1 0 -15.6 0Z" fill="#fff" stroke="#007020" stroke-width="3"/>
<path d="M2108.2 446.2a7.8 7.8 0 1 0 15.6 0a7.8 7.8 0 1 0 -15.6 0Z" fill="#fff" stroke="#007020" stroke-width="3"/>
<path d="M2134.2 428.9a7.8 7.8 0 1 0 15.6 0a7.8 7.8 0 1 0 -15.6 0Z" fill="#fff" stroke="#007020" stroke-width="3"/>
<path d="M2184.2 402.4a7.8 7.8 0 1 0 15.6 0a7.8 7.8 0 1 0 -15.6 0Z" fill="#fff" stroke="#007020" stroke-width="3"/>
<path d="M2237.2 382.5a7.8 7.8 0 1 0 15.6 0a7.8 7.8 0 1 0 -15.6 0Z" fill="#fff" stroke="#007020" stroke-width="3"/>
<path d="M2290.2 368.8a7.8 7.8 0 1 0 15.6 0a7.8 7.8 0 1 0 -15.6 0Z" fill="#fff" stroke="#007020" stroke-width="3"/>
<path d="M2340.2 359.8a7.8 7.8 0 1 0 15.6 0a7.8 7.8 0 1 0 -15.6 0Z" fill="#fff" stroke="#007020" stroke-width="3"/>
<path d="M2392.2 352.5a7.8 7.8 0 1 0 15.6 0a7.8 7.8 0 1 0 -15.6 0Z" fill="#fff" stroke="#007020" stroke-width="3"/>
<path d="M2443.2 345.5a7.8 7.8 0 1 0 15.6 0a7.8 7.8 0 1 0 -15.6 0Z" fill="#fff" stroke="#007020" stroke-width="3"/>
<polyline points="1836.0,818.9 1839.9,812.7 1843.9,806.4 1847.8,800.1 1851.7,793.6 1855.7,787.1 1859.6,780.5 1863.6,773.8 1867.5,767.2 1871.4,760.4 1875.4,753.7 1879.3,746.9 1883.2,740.1 1887.2,733.2 1891.1,726.4 1895.1,719.6 1899.0,712.9 1902.9,706.1 1906.9,699.4 1910.8,692.7 1914.7,686.1 1918.7,679.5 1922.6,672.9 1926.6,666.5 1930.5,660.0 1934.4,653.7 1938.4,647.4 1942.3,641.2 1946.2,635.1 1950.2,629.0 1954.1,623.1 1958.1,617.2 1962.0,611.4 1965.9,605.7 1969.9,600.0 1973.8,594.5 1977.7,589.0 1981.7,583.6 1985.6,578.3 1989.5,573.1 1993.5,568.0 1997.4,562.9 2001.4,557.9 2005.3,553.0 2009.2,548.2 2013.2,543.5 2017.1,538.8 2021.0,534.2 2025.0,529.7 2028.9,525.3 2032.9,520.9 2036.8,516.7 2040.7,512.5 2044.7,508.3 2048.6,504.3 2052.5,500.3 2056.5,496.4 2060.4,492.6 2064.4,488.8 2068.3,485.2 2072.2,481.6 2076.2,478.0 2080.1,474.6 2084.0,471.2 2088.0,467.9 2091.9,464.6 2095.8,461.4 2099.8,458.3 2103.7,455.3 2107.7,452.3 2111.6,449.4 2115.5,446.5 2119.5,443.7 2123.4,441.0 2127.3,438.3 2131.3,435.7 2135.2,433.2 2139.2,430.7 2143.1,428.2 2147.0,425.8 2151.0,423.5 2154.9,421.3 2158.8,419.0 2162.8,416.9 2166.7,414.8 2170.7,412.7 2174.6,410.7 2178.5,408.8 2182.5,406.9 2186.4,405.0 2190.3,403.2 2194.3,401.4 2198.2,399.7 2202.2,398.0 2206.1,396.4 2210.0,394.8 2214.0,393.3 2217.9,391.8 2221.8,390.3 2225.8,388.9 2229.7,387.5 2233.6,386.2 2237.6,384.9 2241.5,383.6 2245.5,382.3 2249.4,381.1 2253.3,380.0 2257.3,378.8 2261.2,377.7 2265.1,376.7 2269.1,375.6 2273.0,374.6 2277.0,373.6 2280.9,372.7 2284.8,371.7 2288.8,370.8 2292.7,370.0 2296.6,369.1 2300.6,368.3 2304.5,367.5 2308.5,366.7 2312.4,365.9 2316.3,365.2 2320.3,364.4 2324.2,363.7 2328.1,363.0 2332.1,362.4 2336.0,361.7 2339.9,361.1 2343.9,360.4 2347.8,359.8 2351.8,359.2 2355.7,358.6 2359.6,358.0 2363.6,357.5 2367.5,356.9 2371.4,356.3 2375.4,355.8 2379.3,355.2 2383.3,354.7 2387.2,354.2 2391.1,353.6 2395.1,353.1 2399.0,352.6 2402.9,352.1 2406.9,351.5 2410.8,351.0 2414.8,350.5 2418.7,350.0 2422.6,349.4 2426.6,348.9 2430.5,348.4 2434.4,347.8 2438.4,347.3 2442.3,346.7 2446.3,346.2 2450.2,345.6 2454.1,345.0 2458.1,344.4 2462.0,343.8" fill="none" stroke="#007020" stroke-width="5" stroke-linejoin="round" stroke-linecap="round"/>
<path d="M1830.7 800.2L1840.0 790.0L1849.3 800.2L1840.0 810.4Z" fill="#fff" stroke="#00a830" stroke-width="3"/>
<path d="M1839.8 774.1L1849.1 763.9L1858.4 774.1L1849.1 784.3Z" fill="#fff" stroke="#00a830" stroke-width="3"/>
<path d="M1848.9 750.3L1858.2 740.1L1867.5 750.3L1858.2 760.5Z" fill="#fff" stroke="#00a830" stroke-width="3"/>
<path d="M1858.0 727.6L1867.3 717.4L1876.6 727.6L1867.3 737.8Z" fill="#fff" stroke="#00a830" stroke-width="3"/>
<path d="M1867.1 704.7L1876.4 694.5L1885.7 704.7L1876.4 714.9Z" fill="#fff" stroke="#00a830" stroke-width="3"/>
<path d="M1876.2 680.4L1885.5 670.2L1894.8 680.4L1885.5 690.6Z" fill="#fff" stroke="#00a830" stroke-width="3"/>
<path d="M1885.3 654.0L1894.6 643.8L1903.9 654.0L1894.6 664.2Z" fill="#fff" stroke="#00a830" stroke-width="3"/>
<path d="M1894.4 626.4L1903.7 616.2L1913.0 626.4L1903.7 636.6Z" fill="#fff" stroke="#00a830" stroke-width="3"/>
<path d="M1903.5 598.9L1912.8 588.7L1922.1 598.9L1912.8 609.1Z" fill="#fff" stroke="#00a830" stroke-width="3"/>
<path d="M1912.6 572.6L1921.9 562.4L1931.2 572.6L1921.9 582.8Z" fill="#fff" stroke="#00a830" stroke-width="3"/>
<path d="M1921.7 548.4L1931.0 538.2L1940.3 548.4L1931.0 558.6Z" fill="#fff" stroke="#00a830" stroke-width="3"/>
<path d="M1928.4 517.6L1937.7 507.4L1947.0 517.6L1937.7 527.8Z" fill="#fff" stroke="#00a830" stroke-width="3"/>
<path d="M1957.3 501.5L1966.6 491.3L1975.9 501.5L1966.6 511.7Z" fill="#fff" stroke="#00a830" stroke-width="3"/>
<path d="M1986.2 464.6L1995.5 454.4L2004.8 464.6L1995.5 474.8Z" fill="#fff" stroke="#00a830" stroke-width="3"/>
<path d="M2007.0 440.6L2016.3 430.4L2025.6 440.6L2016.3 450.8Z" fill="#fff" stroke="#00a830" stroke-width="3"/>
<path d="M2032.7 418.1L2042.0 407.9L2051.3 418.1L2042.0 428.3Z" fill="#fff" stroke="#00a830" stroke-width="3"/>
<path d="M2055.1 397.3L2064.4 387.1L2073.7 397.3L2064.4 407.5Z" fill="#fff" stroke="#00a830" stroke-width="3"/>
<path d="M2082.2 383.8L2091.5 373.6L2100.8 383.8L2091.5 394.0Z" fill="#fff" stroke="#00a830" stroke-width="3"/>
<path d="M2105.7 373.2L2115.0 363.0L2124.3 373.2L2115.0 383.4Z" fill="#fff" stroke="#00a830" stroke-width="3"/>
<path d="M2132.4 362.6L2141.7 352.4L2151.0 362.6L2141.7 372.8Z" fill="#fff" stroke="#00a830" stroke-width="3"/>
<path d="M2182.7 354.7L2192.0 344.5L2201.3 354.7L2192.0 364.9Z" fill="#fff" stroke="#00a830" stroke-width="3"/>
<path d="M2235.7 346.8L2245.0 336.6L2254.3 346.8L2245.0 357.0Z" fill="#fff" stroke="#00a830" stroke-width="3"/>
<path d="M2288.7 338.8L2298.0 328.6L2307.3 338.8L2298.0 349.0Z" fill="#fff" stroke="#00a830" stroke-width="3"/>
<path d="M2338.7 333.5L2348.0 323.3L2357.3 333.5L2348.0 343.7Z" fill="#fff" stroke="#00a830" stroke-width="3"/>
<path d="M2391.7 330.9L2401.0 320.7L2410.3 330.9L2401.0 341.1Z" fill="#fff" stroke="#00a830" stroke-width="3"/>
<path d="M2441.7 325.0L2451.0 314.8L2460.3 325.0L2451.0 335.2Z" fill="#fff" stroke="#00a830" stroke-width="3"/>
<polyline points="1835.0,815.9 1838.9,803.4 1842.9,791.6 1846.8,780.4 1850.8,769.6 1854.7,759.2 1858.7,749.2 1862.6,739.2 1866.5,729.4 1870.5,719.6 1874.4,709.7 1878.4,699.5 1882.3,689.1 1886.3,678.3 1890.2,667.0 1894.2,655.4 1898.1,643.5 1902.0,631.5 1906.0,619.5 1909.9,607.5 1913.9,595.8 1917.8,584.3 1921.8,573.0 1925.7,562.2 1929.6,551.8 1933.6,542.0 1937.5,532.7 1941.5,524.0 1945.4,515.9 1949.4,508.2 1953.3,501.0 1957.2,494.3 1961.2,488.0 1965.1,482.1 1969.1,476.6 1973.0,471.4 1977.0,466.5 1980.9,461.9 1984.8,457.5 1988.8,453.4 1992.7,449.4 1996.7,445.7 2000.6,442.1 2004.6,438.6 2008.5,435.2 2012.5,431.9 2016.4,428.7 2020.3,425.6 2024.3,422.6 2028.2,419.7 2032.2,416.8 2036.1,414.1 2040.1,411.4 2044.0,408.7 2047.9,406.2 2051.9,403.7 2055.8,401.3 2059.8,398.9 2063.7,396.6 2067.7,394.3 2071.6,392.2 2075.5,390.0 2079.5,388.0 2083.4,385.9 2087.4,384.0 2091.3,382.1 2095.3,380.2 2099.2,378.4 2103.2,376.7 2107.1,375.0 2111.0,373.3 2115.0,371.7 2118.9,370.2 2122.9,368.7 2126.8,367.3 2130.8,365.8 2134.7,364.5 2138.6,363.2 2142.6,361.9 2146.5,360.7 2150.5,359.5 2154.4,358.3 2158.4,357.2 2162.3,356.1 2166.2,355.1 2170.2,354.1 2174.1,353.1 2178.1,352.2 2182.0,351.3 2186.0,350.5 2189.9,349.6 2193.8,348.8 2197.8,348.1 2201.7,347.3 2205.7,346.6 2209.6,346.0 2213.6,345.3 2217.5,344.7 2221.5,344.1 2225.4,343.5 2229.3,343.0 2233.3,342.5 2237.2,342.0 2241.2,341.5 2245.1,341.0 2249.1,340.6 2253.0,340.1 2256.9,339.7 2260.9,339.3 2264.8,339.0 2268.8,338.6 2272.7,338.3 2276.7,337.9 2280.6,337.6 2284.5,337.3 2288.5,337.0 2292.4,336.7 2296.4,336.4 2300.3,336.2 2304.3,335.9 2308.2,335.6 2312.2,335.4 2316.1,335.1 2320.0,334.9 2324.0,334.7 2327.9,334.4 2331.9,334.2 2335.8,333.9 2339.8,333.7 2343.7,333.5 2347.6,333.2 2351.6,333.0 2355.5,332.7 2359.5,332.4 2363.4,332.2 2367.4,331.9 2371.3,331.6 2375.2,331.3 2379.2,331.0 2383.1,330.7 2387.1,330.4 2391.0,330.1 2395.0,329.7 2398.9,329.4 2402.8,329.0 2406.8,328.6 2410.7,328.2 2414.7,327.8 2418.6,327.3 2422.6,326.9 2426.5,326.4 2430.5,325.9 2434.4,325.3 2438.3,324.8 2442.3,324.2 2446.2,323.6 2450.2,323.0 2454.1,322.3 2458.1,321.6 2462.0,320.9" fill="none" stroke="#00a830" stroke-width="6" stroke-linejoin="round" stroke-linecap="round"/>
<path d="M1832.2 784.7a7.8 7.8 0 1 0 15.6 0a7.8 7.8 0 1 0 -15.6 0Z" fill="#fff" stroke="#00d030" stroke-width="3"/>
<path d="M1841.3 743.8a7.8 7.8 0 1 0 15.6 0a7.8 7.8 0 1 0 -15.6 0Z" fill="#fff" stroke="#00d030" stroke-width="3"/>
<path d="M1850.4 705.8a7.8 7.8 0 1 0 15.6 0a7.8 7.8 0 1 0 -15.6 0Z" fill="#fff" stroke="#00d030" stroke-width="3"/>
<path d="M1859.5 670.5a7.8 7.8 0 1 0 15.6 0a7.8 7.8 0 1 0 -15.6 0Z" fill="#fff" stroke="#00d030" stroke-width="3"/>
<path d="M1868.6 637.9a7.8 7.8 0 1 0 15.6 0a7.8 7.8 0 1 0 -15.6 0Z" fill="#fff" stroke="#00d030" stroke-width="3"/>
<path d="M1877.7 607.8a7.8 7.8 0 1 0 15.6 0a7.8 7.8 0 1 0 -15.6 0Z" fill="#fff" stroke="#00d030" stroke-width="3"/>
<path d="M1886.8 580.1a7.8 7.8 0 1 0 15.6 0a7.8 7.8 0 1 0 -15.6 0Z" fill="#fff" stroke="#00d030" stroke-width="3"/>
<path d="M1895.9 554.7a7.8 7.8 0 1 0 15.6 0a7.8 7.8 0 1 0 -15.6 0Z" fill="#fff" stroke="#00d030" stroke-width="3"/>
<path d="M1905.0 531.5a7.8 7.8 0 1 0 15.6 0a7.8 7.8 0 1 0 -15.6 0Z" fill="#fff" stroke="#00d030" stroke-width="3"/>
<path d="M1914.1 510.3a7.8 7.8 0 1 0 15.6 0a7.8 7.8 0 1 0 -15.6 0Z" fill="#fff" stroke="#00d030" stroke-width="3"/>
<path d="M1923.2 491.1a7.8 7.8 0 1 0 15.6 0a7.8 7.8 0 1 0 -15.6 0Z" fill="#fff" stroke="#00d030" stroke-width="3"/>
<path d="M1932.3 473.7a7.8 7.8 0 1 0 15.6 0a7.8 7.8 0 1 0 -15.6 0Z" fill="#fff" stroke="#00d030" stroke-width="3"/>
<path d="M1956.2 435.8a7.8 7.8 0 1 0 15.6 0a7.8 7.8 0 1 0 -15.6 0Z" fill="#fff" stroke="#00d030" stroke-width="3"/>
<path d="M1982.2 405.4a7.8 7.8 0 1 0 15.6 0a7.8 7.8 0 1 0 -15.6 0Z" fill="#fff" stroke="#00d030" stroke-width="3"/>
<path d="M2008.2 383.7a7.8 7.8 0 1 0 15.6 0a7.8 7.8 0 1 0 -15.6 0Z" fill="#fff" stroke="#00d030" stroke-width="3"/>
<path d="M2031.2 369.6a7.8 7.8 0 1 0 15.6 0a7.8 7.8 0 1 0 -15.6 0Z" fill="#fff" stroke="#00d030" stroke-width="3"/>
<path d="M2057.2 357.5a7.8 7.8 0 1 0 15.6 0a7.8 7.8 0 1 0 -15.6 0Z" fill="#fff" stroke="#00d030" stroke-width="3"/>
<path d="M2083.2 348.8a7.8 7.8 0 1 0 15.6 0a7.8 7.8 0 1 0 -15.6 0Z" fill="#fff" stroke="#00d030" stroke-width="3"/>
<path d="M2108.2 343.0a7.8 7.8 0 1 0 15.6 0a7.8 7.8 0 1 0 -15.6 0Z" fill="#fff" stroke="#00d030" stroke-width="3"/>
<path d="M2134.2 338.7a7.8 7.8 0 1 0 15.6 0a7.8 7.8 0 1 0 -15.6 0Z" fill="#fff" stroke="#00d030" stroke-width="3"/>
<path d="M2184.2 333.4a7.8 7.8 0 1 0 15.6 0a7.8 7.8 0 1 0 -15.6 0Z" fill="#fff" stroke="#00d030" stroke-width="3"/>
<path d="M2237.2 328.0a7.8 7.8 0 1 0 15.6 0a7.8 7.8 0 1 0 -15.6 0Z" fill="#fff" stroke="#00d030" stroke-width="3"/>
<path d="M2290.2 322.5a7.8 7.8 0 1 0 15.6 0a7.8 7.8 0 1 0 -15.6 0Z" fill="#fff" stroke="#00d030" stroke-width="3"/>
<path d="M2340.2 318.2a7.8 7.8 0 1 0 15.6 0a7.8 7.8 0 1 0 -15.6 0Z" fill="#fff" stroke="#00d030" stroke-width="3"/>
<path d="M2392.2 315.6a7.8 7.8 0 1 0 15.6 0a7.8 7.8 0 1 0 -15.6 0Z" fill="#fff" stroke="#00d030" stroke-width="3"/>
<path d="M2443.2 315.9a7.8 7.8 0 1 0 15.6 0a7.8 7.8 0 1 0 -15.6 0Z" fill="#fff" stroke="#00d030" stroke-width="3"/>
<polyline points="1833.0,818.2 1837.0,799.1 1840.9,780.5 1844.9,762.5 1848.8,745.0 1852.8,728.1 1856.7,711.7 1860.7,695.8 1864.6,680.5 1868.6,665.7 1872.6,651.3 1876.5,637.5 1880.5,624.1 1884.4,611.2 1888.4,598.8 1892.3,586.8 1896.3,575.2 1900.3,564.1 1904.2,553.4 1908.2,543.1 1912.1,533.2 1916.1,523.7 1920.0,514.5 1924.0,505.8 1927.9,497.4 1931.9,489.3 1935.9,481.6 1939.8,474.2 1943.8,467.2 1947.7,460.4 1951.7,454.0 1955.6,447.8 1959.6,442.0 1963.5,436.4 1967.5,431.1 1971.5,426.0 1975.4,421.2 1979.4,416.6 1983.3,412.3 1987.3,408.1 1991.2,404.2 1995.2,400.5 1999.2,396.9 2003.1,393.5 2007.1,390.4 2011.0,387.3 2015.0,384.4 2018.9,381.7 2022.9,379.1 2026.8,376.6 2030.8,374.2 2034.8,371.9 2038.7,369.7 2042.7,367.6 2046.6,365.6 2050.6,363.7 2054.5,361.9 2058.5,360.2 2062.4,358.5 2066.4,357.0 2070.4,355.5 2074.3,354.0 2078.3,352.7 2082.2,351.4 2086.2,350.2 2090.1,349.1 2094.1,348.0 2098.1,346.9 2102.0,346.0 2106.0,345.1 2109.9,344.2 2113.9,343.4 2117.8,342.6 2121.8,341.9 2125.7,341.2 2129.7,340.5 2133.7,339.9 2137.6,339.3 2141.6,338.8 2145.5,338.3 2149.5,337.8 2153.4,337.3 2157.4,336.9 2161.3,336.4 2165.3,336.0 2169.3,335.6 2173.2,335.2 2177.2,334.8 2181.1,334.5 2185.1,334.1 2189.0,333.7 2193.0,333.3 2196.9,332.9 2200.9,332.6 2204.9,332.2 2208.8,331.8 2212.8,331.4 2216.7,331.0 2220.7,330.5 2224.6,330.1 2228.6,329.7 2232.6,329.3 2236.5,328.9 2240.5,328.5 2244.4,328.0 2248.4,327.6 2252.3,327.2 2256.3,326.8 2260.2,326.4 2264.2,325.9 2268.2,325.5 2272.1,325.1 2276.1,324.7 2280.0,324.3 2284.0,323.9 2287.9,323.5 2291.9,323.1 2295.8,322.7 2299.8,322.3 2303.8,321.9 2307.7,321.6 2311.7,321.2 2315.6,320.8 2319.6,320.5 2323.5,320.2 2327.5,319.8 2331.5,319.5 2335.4,319.2 2339.4,318.9 2343.3,318.6 2347.3,318.3 2351.2,318.0 2355.2,317.7 2359.1,317.5 2363.1,317.2 2367.1,317.0 2371.0,316.8 2375.0,316.6 2378.9,316.4 2382.9,316.2 2386.8,316.1 2390.8,315.9 2394.7,315.8 2398.7,315.7 2402.7,315.6 2406.6,315.5 2410.6,315.4 2414.5,315.4 2418.5,315.3 2422.4,315.3 2426.4,315.3 2430.4,315.4 2434.3,315.4 2438.3,315.5 2442.2,315.6 2446.2,315.7 2450.1,315.8 2454.1,316.0 2458.0,316.2 2462.0,316.3" fill="none" stroke="#00d030" stroke-width="7.5" stroke-linejoin="round" stroke-linecap="round"/>
</g>
<rect x="1814.5" y="282.0" width="645.5" height="560.0" fill="none" stroke="#000" stroke-width="4"/>
<path d="M1814.5 655.1h13M1814.5 468.1h13M1988.6 842.0v-13M2186.7 842.0v-13M2384.8 842.0v-13" stroke="#000" stroke-width="3"/>
<text x="1803" y="325.3" font-size="44" text-anchor="end">2.7</text>
<text x="1803" y="486" font-size="44" text-anchor="end">1.8</text>
<text x="1803" y="678" font-size="44" text-anchor="end">0.9</text>
<text x="1803" y="844" font-size="44" text-anchor="end">0.0</text>
<text x="1991.8" y="886.5" font-size="50" text-anchor="middle">2</text>
<text x="2184.3" y="886.5" font-size="50" text-anchor="middle">4</text>
<text x="2382" y="886.5" font-size="50" text-anchor="middle">6</text>
<text x="2042" y="908.7" font-size="48"><tspan font-weight="bold" font-style="italic">H</tspan><tspan font-size="45"> (T)</tspan></text>
<text transform="translate(1724.8,575) rotate(-90)" font-size="45" text-anchor="middle"><tspan font-weight="bold" font-style="italic">M</tspan> (<tspan font-style="italic">Nμ</tspan><tspan font-size="32" dy="14">B</tspan><tspan dy="-14" dx="2">)</tspan></text>
<line x1="2227" y1="629.0" x2="2318" y2="629.0" stroke="#00d030" stroke-width="7" stroke-linecap="round"/>
<path d="M2264.2 629.0a9.1 9.1 0 1 0 18.2 0a9.1 9.1 0 1 0 -18.2 0Z" fill="#fff" stroke="#00d030" stroke-width="3.5"/>
<text x="2328" y="642.0" font-size="37" font-weight="bold" fill="#00d030" style="stroke-width:0.2px" xml:space="preserve">1.8 K</text>
<line x1="2227" y1="676.2" x2="2318" y2="676.2" stroke="#00a830" stroke-width="7" stroke-linecap="round"/>
<path d="M2262.5 676.2L2273.3 664.3L2284.2 676.2L2273.3 688.1Z" fill="#fff" stroke="#00a830" stroke-width="3.5"/>
<text x="2328" y="689.2" font-size="37" font-weight="bold" fill="#00a830" style="stroke-width:0.2px" xml:space="preserve">2.5 K</text>
<line x1="2227" y1="721.9" x2="2318" y2="721.9" stroke="#007020" stroke-width="7" stroke-linecap="round"/>
<path d="M2264.2 721.9a9.1 9.1 0 1 0 18.2 0a9.1 9.1 0 1 0 -18.2 0Z" fill="#fff" stroke="#007020" stroke-width="3.5"/>
<text x="2328" y="734.9" font-size="37" font-weight="bold" fill="#007020" style="stroke-width:0.2px" xml:space="preserve">5.0 K</text>
<line x1="2227" y1="765.3" x2="2318" y2="765.3" stroke="#000" stroke-width="7" stroke-linecap="round"/>
<path d="M2265.4 757.4h15.7v15.7h-15.7Z" fill="#fff" stroke="#000" stroke-width="3.5"/>
<text x="2328" y="778.3" font-size="37" font-weight="normal" fill="#000" style="stroke-width:0.8px" xml:space="preserve">10  K</text>
<rect x="1433.0" y="43.5" width="1027.0" height="891.0" fill="none" stroke="#000" stroke-width="4"/>
<path d="M1433.0 729.0h21M1433.0 557.4h21M1433.0 385.8h21M1433.0 214.2h21M1689.8 934.5v-22M1946.5 934.5v-22M2203.2 934.5v-22" stroke="#000" stroke-width="4.5"/>
<text x="1409" y="916.6" font-size="57" text-anchor="end">0.0</text>
<text x="1409" y="745.0" font-size="57" text-anchor="end">0.5</text>
<text x="1409" y="573.4" font-size="57" text-anchor="end">1.0</text>
<text x="1409" y="401.8" font-size="57" text-anchor="end">1.5</text>
<text x="1409" y="230.2" font-size="57" text-anchor="end">2.0</text>
<text x="1409" y="58.6" font-size="57" text-anchor="end">2.5</text>
<text x="1431.2" y="999" font-size="55" text-anchor="middle">0</text>
<text x="1691.8" y="999" font-size="55" text-anchor="middle">1</text>
<text x="1943.5" y="999" font-size="55" text-anchor="middle">2</text>
<text x="2201.2" y="999" font-size="55" text-anchor="middle">3</text>
<text x="2454.3" y="999" font-size="55" text-anchor="middle">4</text>
<text x="1984" y="1065.5" font-size="60.5" text-anchor="middle"><tspan font-style="italic">H/T</tspan> (T/K)</text>
<text x="1973.5" y="1194" font-size="147" text-anchor="middle">(b)</text>
<text transform="translate(1302,467) rotate(-90)" font-size="58" text-anchor="middle"><tspan font-style="italic">M</tspan> (N<tspan font-style="italic">μ</tspan><tspan font-size="44" dy="20">B</tspan><tspan dy="-20" dx="5">)</tspan></text>
<line x1="1805.9" y1="167.0" x2="1938.0" y2="167.0" stroke="#c8650c" stroke-width="9.5" stroke-linecap="round"/>
<path d="M1859.8 155.8h22.5v22.5h-22.5Z" fill="#fff" stroke="#c8650c" stroke-width="4.6"/>
<text transform="translate(1958,189.0) scale(0.935,1)" font-size="64" fill="#f7c060" xml:space="preserve">1.8 K</text>
<line x1="2132.5" y1="165.6" x2="2263.1" y2="165.6" stroke="#ffbf40" stroke-width="9.5" stroke-linecap="round"/>
<path d="M2184.7 165.6a13.0 13.0 0 1 0 26.0 0a13.0 13.0 0 1 0 -26.0 0Z" fill="#fff" stroke="#ffbf40" stroke-width="4.0"/>
<text transform="translate(2282,187.6) scale(0.935,1)" font-size="64" fill="#f7c060" xml:space="preserve">2.5 K</text>
<line x1="1803.0" y1="238.4" x2="1935.2" y2="238.4" stroke="#a9d36a" stroke-width="9.5" stroke-linecap="round"/>
<path d="M1854.3 238.4L1869.8 221.4L1885.3 238.4L1869.8 255.4Z" fill="#fff" stroke="#a9d36a" stroke-width="4.3"/>
<text transform="translate(1954,260.4) scale(0.935,1)" font-size="64" fill="#a9d36a" xml:space="preserve">5.0 K</text>
<line x1="2128.1" y1="246.3" x2="2258.8" y2="246.3" stroke="#00801e" stroke-width="9.5" stroke-linecap="round"/>
<path d="M2194.9 233.3L2208.7 243.3L2203.4 259.5L2186.4 259.5L2181.1 243.3Z" fill="#fff" stroke="#00801e" stroke-width="4.4"/>
<text transform="translate(2283,268.3) scale(0.935,1)" font-size="64" fill="#1a7a30" xml:space="preserve">10  K</text>
</svg></body></html>
